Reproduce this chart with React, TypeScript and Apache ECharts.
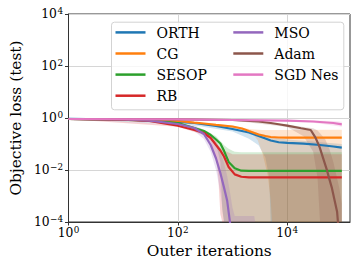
import { useEffect, useRef } from "react";
import * as echarts from "echarts";

const seriesNames = ["ORTH", "CG", "SESOP", "RB", "MSO", "Adam", "SGD Nes"];
const seriesColors = ["#1f77b4", "#ff7f0e", "#2ca02c", "#d62728", "#9467bd", "#8c564b", "#e377c2"];

const xTicks = [1, 100, 10000];
const yTicks = [1e-4, 1e-2, 1, 1e2, 1e4];

// ORTH
const orthX = [1, 10, 30, 100, 200, 500, 1000, 2000, 3000, 4000, 5000, 7000, 10000, 20000, 40000, 70000, 100000];
const orthY = [0.932, 0.876, 0.801, 0.702, 0.642, 0.492, 0.378, 0.277, 0.203, 0.163, 0.136, 0.117, 0.111, 0.103, 0.0915, 0.08, 0.072];
const orthBandX = [1, 100, 1000, 2000, 3000, 4000, 4700, 5000, 10000, 100000];
const orthHi = [0.95, 0.75, 0.45, 0.34, 0.26, 0.22, 0.19, 0.18, 0.15, 0.1];
const orthLo = [0.9, 0.65, 0.3, 0.16, 0.09, 0.03, 0.005, 1e-5, 1e-5, 1e-5];

// CG
const cgX = [1, 10, 30, 100, 200, 300, 500, 1000, 1500, 2000, 3000, 4000, 5000, 7000, 10000, 100000];
const cgY = [0.915, 0.876, 0.816, 0.767, 0.659, 0.614, 0.548, 0.471, 0.395, 0.316, 0.232, 0.203, 0.186, 0.178, 0.175, 0.175];
const cgBandX = [1, 100, 1000, 1500, 2200, 2900, 3600, 4400, 5000, 5300, 100000];
const cgHi = [0.95, 0.8, 0.52, 0.42, 0.37, 0.35, 0.345, 0.345, 0.345, 0.345, 0.35];
const cgLo = [0.88, 0.73, 0.42, 0.35, 0.28, 0.14, 0.038, 0.0064, 0.0007, 1e-5, 1e-5];

// SESOP
const sesopX = [1, 10, 30, 100, 200, 300, 400, 500, 600, 700, 850, 1100, 1450, 2000, 100000];
const sesopY = [0.915, 0.868, 0.801, 0.642, 0.413, 0.316, 0.222, 0.149, 0.105, 0.0547, 0.0204, 0.0117, 0.0094, 0.0093, 0.0093];
const sesopBandX = [1, 100, 300, 500, 600, 650, 700, 850, 1000, 1100, 1450, 100000];
const sesopHi = [0.93, 0.68, 0.36, 0.2, 0.13, 0.11, 0.09, 0.065, 0.055, 0.05, 0.048, 0.048];
const sesopLo = [0.9, 0.6, 0.27, 0.1, 0.02, 0.0003, 1e-5, 1e-5, 1e-5, 1e-5, 1e-5, 1e-5];

// RB
const rbX = [1, 10, 30, 100, 200, 300, 400, 500, 600, 700, 850, 1100, 1450, 2000, 100000];
const rbY = [0.915, 0.86, 0.767, 0.506, 0.345, 0.265, 0.17, 0.0916, 0.0563, 0.0332, 0.0131, 0.0068, 0.0055, 0.0052, 0.0052];
const rbBandX = [1, 100, 300, 400, 500, 550, 600, 650, 1000, 1500, 100000];
const rbHi = [0.93, 0.55, 0.3, 0.2, 0.13, 0.09, 0.07, 0.06, 0.04, 0.04, 0.04];
const rbLo = [0.9, 0.46, 0.22, 0.12, 0.03, 0.005, 0.0002, 1e-5, 1e-5, 1e-5, 1e-5];

// MSO
const msoX = [1, 10, 30, 100, 200, 300, 400, 500, 600, 700, 800, 900, 1000];
const msoY = [0.915, 0.876, 0.787, 0.588, 0.413, 0.242, 0.0916, 0.0277, 0.0077, 0.0021, 0.00065, 0.000096, 0.00001];
const msoBandX = [1, 100, 200, 300, 400, 500, 600, 700, 800, 900, 1000, 1100, 2500, 2600];
const msoHi = [0.93, 0.62, 0.54, 0.345, 0.194, 0.109, 0.049, 0.0187, 0.0059, 0.0014, 0.00035, 0.00017, 0.00017, 1e-5];
const msoLo = [0.9, 0.55, 0.316, 0.156, 0.049, 0.01, 0.0014, 1e-5, 1e-5, 1e-5, 1e-5, 1e-5, 1e-5, 1e-5];

// Adam
const adamX = [1, 10, 100, 1000, 3000, 5000, 7000, 10000, 18000, 27000, 33000, 39000, 54000, 58000, 66000, 82000, 85000, 90000];
const adamY = [0.915, 0.9, 0.88, 0.838, 0.733, 0.642, 0.573, 0.506, 0.402, 0.345, 0.175, 0.0787, 0.0092, 0.0052, 0.002, 0.00025, 0.0001, 0.00001];
const adamBandX = [1, 1000, 10000, 20000, 30000, 36000, 40000, 50000, 60000, 70000, 80000, 90000, 100000];
const adamHi = [0.93, 0.87, 0.56, 0.45, 0.4, 0.33, 0.26, 0.15, 0.06, 0.02, 0.006, 0.002, 0.0005];
const adamLo = [0.9, 0.8, 0.45, 0.2, 0.05, 0.005, 1e-5, 1e-5, 1e-5, 1e-5, 1e-5, 1e-5, 1e-5];

// SGD Nes
const sgdX = [1, 100, 1000, 10000, 30000, 70000, 100000];
const sgdY = [0.915, 0.88, 0.838, 0.787, 0.733, 0.642, 0.57];
const sgdBandX = [1, 100, 1000, 10000, 30000, 70000, 100000];
const sgdHi = [0.93, 0.9, 0.87, 0.83, 0.8, 0.76, 0.72];
const sgdLo = [0.9, 0.86, 0.8, 0.74, 0.66, 0.52, 0.46];

const lineData = [
  [orthX, orthY],
  [cgX, cgY],
  [sesopX, sesopY],
  [rbX, rbY],
  [msoX, msoY],
  [adamX, adamY],
  [sgdX, sgdY],
];
const bandData = [
  [orthBandX, orthLo, orthHi],
  [cgBandX, cgLo, cgHi],
  [sesopBandX, sesopLo, sesopHi],
  [rbBandX, rbLo, rbHi],
  [msoBandX, msoLo, msoHi],
  [adamBandX, adamLo, adamHi],
  [sgdBandX, sgdLo, sgdHi],
];

const X_MIN = 1;
const X_MAX = Math.pow(10, 5.15);
const Y_MIN = 1e-4;
const Y_MAX = 1e4;
const FONT = "'DejaVu Serif', serif";

function expLabel(v: number) {
  const e = Math.round(Math.log10(v));
  if (Math.abs(Math.log10(v) - e) > 0.01) return "";
  const s = e < 0 ? "\u2212" + -e : String(e);
  return "{b|10}{s|" + s + "}";
}

const richLabel = {
  b: { fontFamily: FONT, fontSize: 12.3, color: "#000", lineHeight: 15 },
  s: { fontFamily: FONT, fontSize: 8.8, color: "#000", verticalAlign: "top", lineHeight: 9, padding: [0, 0, 0, 0.5] },
};

function legendGraphics() {
  const els: any[] = [
    {
      type: "rect",
      left: 111,
      top: 21.7,
      z: 5,
      shape: { width: 232.3, height: 87.6, r: 3 },
      style: { fill: "rgba(255,255,255,0.8)", stroke: "#d3d3d3", lineWidth: 1 },
    },
  ];
  seriesNames.forEach((name, i) => {
    const col = i < 4 ? 0 : 1;
    const row = i < 4 ? i : i - 4;
    const x0 = col === 0 ? 115.5 : 233.3;
    const y = 32.4 + row * 21.1;
    els.push({
      type: "line",
      z: 6,
      shape: { x1: x0, y1: y, x2: x0 + 30, y2: y },
      style: { stroke: seriesColors[i], lineWidth: 2.5 },
    });
    els.push({
      type: "text",
      z: 6,
      x: x0 + 41,
      y: y + 0.5,
      style: { text: name, fontFamily: FONT, fontSize: 14, fill: "#000", verticalAlign: "middle", align: "left" },
    });
  });
  return els;
}

export default function App() {
  const ref = useRef<HTMLDivElement>(null);
  useEffect(() => {
    if (!ref.current) return;
    const chart = echarts.init(ref.current, null, { renderer: "svg" });
    const bands = bandData.map(([bx, lo, hi], k) => ({
      type: "custom",
      name: seriesNames[k] + " band",
      z: 1,
      silent: true,
      clip: true,
      data: (bx as number[]).map((x, i) => [x, (lo as number[])[i], (hi as number[])[i]]),
      encode: { x: 0, y: [1, 2] },
      renderItem: (params: any, api: any) => {
        if (params.dataIndex !== 0) return null;
        const xs = bx as number[];
        const top = xs.map((x, i) => api.coord([x, Math.max((hi as number[])[i], Y_MIN)]));
        const bot = xs.map((x, i) => api.coord([x, Math.max((lo as number[])[i], Y_MIN)])).reverse();
        return {
          type: "polygon",
          shape: { points: top.concat(bot) },
          style: { fill: seriesColors[k], opacity: 0.2 },
        };
      },
    }));
    const lines = lineData.map(([xs, ys], k) => ({
      type: "line",
      name: seriesNames[k],
      z: 3,
      symbol: "none",
      clip: true,
      lineStyle: { width: 2.2, color: seriesColors[k] },
      itemStyle: { color: seriesColors[k] },
      data: (xs as number[]).map((x, i) => [x, (ys as number[])[i]]),
    }));
    chart.setOption({
      animation: false,
      backgroundColor: "#fff",
      textStyle: { fontFamily: FONT },
      grid: { left: 65, top: 14, right: 9, bottom: 46, show: true, borderColor: "#333", borderWidth: 1, backgroundColor: "transparent" },
      graphic: legendGraphics(),
      xAxis: {
        type: "log",
        logBase: 100,
        min: X_MIN,
        max: X_MAX,
        name: "Outer iterations",
        nameLocation: "middle",
        nameGap: 21.5,
        nameTextStyle: { fontFamily: FONT, fontSize: 15.4, color: "#000" },
        axisLine: { show: true, lineStyle: { color: "#333", width: 1 } },
        axisTick: { show: true, inside: false, length: 3.5, lineStyle: { color: "#333" }, customValues: xTicks },
        axisLabel: { margin: 3, formatter: expLabel, rich: richLabel, customValues: xTicks },
        splitLine: { show: true, lineStyle: { color: "#d6d6d6", width: 1 } },
        minorTick: { show: false },
      },
      yAxis: {
        type: "log",
        logBase: 100,
        min: Y_MIN,
        max: Y_MAX,
        name: "Objective loss (test)",
        nameLocation: "middle",
        nameGap: 43,
        nameTextStyle: { fontFamily: FONT, fontSize: 15.4, color: "#000" },
        axisLine: { show: true, lineStyle: { color: "#333", width: 1 } },
        axisTick: { show: true, inside: false, length: 3.5, lineStyle: { color: "#333" }, customValues: yTicks },
        axisLabel: { margin: 5.5, formatter: expLabel, rich: richLabel, customValues: yTicks },
        splitLine: { show: true, lineStyle: { color: "#d6d6d6", width: 1 } },
      },
      series: [...bands, ...lines],
    });
    return () => chart.dispose();
  }, []);
  return <div ref={ref} style={{ width: 359, height: 268, position: "absolute", left: 0, top: 0 }} />;
}
